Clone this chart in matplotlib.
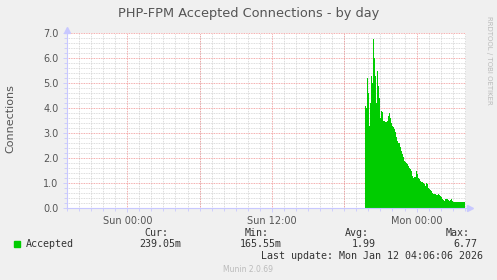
import matplotlib
matplotlib.use("Agg")
import matplotlib.pyplot as plt
import numpy as np

# accepted connections per 5 minute step, starting Sun 19:45 (hours rel. to Mon 00:00)
start_h = -4.25
step_h = 5 / 60.0
accepted = [4.1, 4.0, 5.2, 4.6, 3.3, 4.2, 5.3, 5.0, 6.77, 6.0,
            5.3, 4.2, 5.5, 4.9, 4.4, 3.6, 3.9, 3.85, 3.5, 3.5,
            3.45, 3.45, 3.5, 3.7, 3.8, 3.6, 3.4, 3.3, 3.25, 3.15,
            3.05, 2.85, 2.7, 2.6, 2.45, 2.3, 2.15, 2.05, 1.9, 1.85,
            1.8, 1.75, 1.7, 1.6, 1.55, 1.5, 1.3, 1.2, 1.25, 1.25,
            1.5, 1.35, 1.2, 1.15, 1.1, 1.05, 1.05, 1.0, 0.95, 0.9,
            1.0, 0.95, 0.8, 0.75, 0.72, 0.7, 0.6, 0.57, 0.55, 0.55,
            0.53, 0.53, 0.55, 0.52, 0.5, 0.45, 0.37, 0.32, 0.3, 0.35,
            0.38, 0.35, 0.32, 0.3, 0.33, 0.35, 0.28, 0.25, 0.24, 0.24,
            0.25, 0.24, 0.24, 0.25, 0.24, 0.24, 0.25, 0.24, 0.24, 0.239]

xticks = [-24, -12, 0]
xlabels = ["Sun 00:00", "Sun 12:00", "Mon 00:00"]
yticks = [0, 1, 2, 3, 4, 5, 6, 7]

legend_name = "Accepted"
stats_head = ["Cur:", "Min:", "Avg:", "Max:"]
stats_vals = ["239.05m", "165.55m", "1.99", "6.77"]

t = start_h + step_h * np.arange(len(accepted))

W, H = 497, 280
fig = plt.figure(figsize=(W / 100, H / 100), dpi=100, facecolor="#F0F0F0")
ax = fig.add_axes([67 / W, 1 - 208 / H, (466 - 67) / W, (208 - 33) / H])
ax.set_facecolor("white")

ax.fill_between(t, accepted, step="post", color="#00CC00", linewidth=0, zorder=3)

ax.set_xlim(-29.0, 4.1)
ax.set_ylim(0, 7.0)

ax.set_xticks(xticks)
ax.set_xticklabels(xlabels)
ax.set_xticks(np.arange(-29, 5, 1), minor=True)
ax.set_yticks(yticks)
ax.set_yticklabels(["%.1f" % v for v in yticks])
ax.set_yticks(np.arange(0, 7.01, 0.2), minor=True)

# grid: grey minor, red major
ax.grid(which="minor", color="#D0D0D0", linestyle=(0, (1, 1)), linewidth=0.6, zorder=1)
for v in np.arange(-24, 5, 6):
    ax.axvline(v, color="#F09090", linestyle=(0, (1, 1)), linewidth=0.6, zorder=2)
for v in yticks[1:]:
    ax.axhline(v, color="#F09090", linestyle=(0, (1, 1)), linewidth=0.6, zorder=2)

for s in ["top", "right"]:
    ax.spines[s].set_visible(False)
for s in ["left", "bottom"]:
    ax.spines[s].set_color("#C8C8FF")
    ax.spines[s].set_linewidth(0.8)
    ax.spines[s].set_zorder(4)

ax.tick_params(which="both", colors="#C8C8FF", length=2, width=0.6)
ax.tick_params(axis="x", which="major", length=3, labelsize=7, labelcolor="#555555", pad=3)
ax.tick_params(axis="y", which="major", length=3, labelsize=7, labelcolor="#555555", pad=3)

# axis arrows
ax.plot([0], [1.02], marker="^", color="#C8C8FF", markersize=4, transform=ax.transAxes, clip_on=False)
ax.plot([1.01], [0], marker=">", color="#C8C8FF", markersize=4, transform=ax.transAxes, clip_on=False)

fig.text(0.5, 1 - 14 / H, "PHP-FPM Accepted Connections - by day", ha="center", va="center",
         fontsize=9.3, color="#555555")
fig.text(10 / W, 1 - 119 / H, "Connections", rotation=90, ha="center", va="center",
         fontsize=8, color="#555555")
fig.text(489 / W, 1 - 60 / H, "RRDTOOL / TOBI OETIKER", rotation=270, ha="center", va="center",
         fontsize=5, color="#BBBBBB")

mono = "DejaVu Sans Mono"
fig.patches.append(plt.Rectangle((14 / W, 1 - 247 / H), 6 / W, 6 / H, transform=fig.transFigure,
                                 color="#00CC00", zorder=5))
fig.text(26 / W, 1 - 244 / H, legend_name, ha="left", va="center", fontsize=7.2,
         family=mono, color="#333333")
head_x = [168, 269, 369, 470]
val_x = [181, 282, 376, 477]
for hx, vx, hd, vl in zip(head_x, val_x, stats_head, stats_vals):
    fig.text(hx / W, 1 - 233 / H, hd, ha="right", va="center", fontsize=7.2, family=mono, color="#333333")
    fig.text(vx / W, 1 - 244 / H, vl, ha="right", va="center", fontsize=7.2, family=mono, color="#333333")
fig.text(483 / W, 1 - 256 / H, "Last update: Mon Jan 12 04:06:06 2026", ha="right", va="center",
         fontsize=7.2, family=mono, color="#333333")
fig.text(248 / W, 1 - 270 / H, "Munin 2.0.69", ha="center", va="center", fontsize=5.5, color="#BBBBBB")

fig.savefig("out.png", dpi=100, facecolor=fig.get_facecolor())
